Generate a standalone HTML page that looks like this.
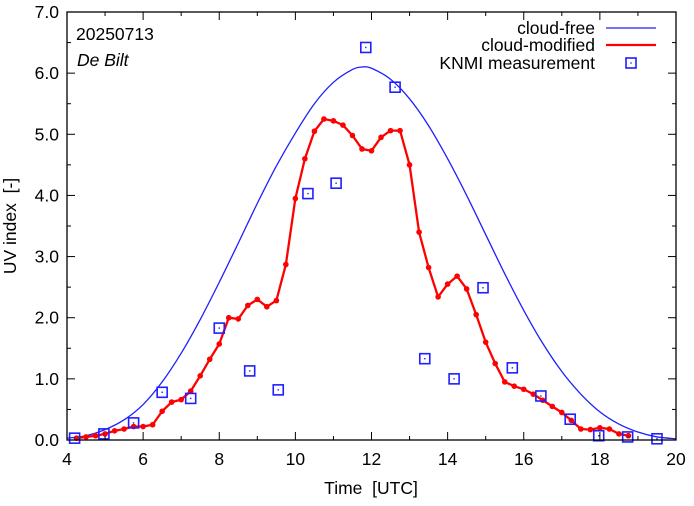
<!DOCTYPE html>
<html><head><meta charset="utf-8"><style>
body{margin:0;background:#fff}
svg text{font-family:"Liberation Sans",sans-serif;fill:#000}
</style></head><body>
<svg id="c" width="694" height="501" xmlns="http://www.w3.org/2000/svg"></svg>
<script>
const xTicks=[4,6,8,10,12,14,16,18,20];
const yTicks=[0,1,2,3,4,5,6,7];
const redTimes=[4.25,4.5,4.75,5,5.25,5.5,5.75,6,6.25,6.5,6.75,7,7.25,7.5,7.75,8,8.25,8.5,8.75,9,9.25,9.5,9.75,10,10.25,10.5,10.75,11,11.25,11.5,11.75,12,12.25,12.5,12.75,13,13.25,13.5,13.75,14,14.25,14.5,14.75,15,15.25,15.5,15.75,16,16.25,16.5,16.75,17,17.25,17.5,17.75,18,18.25,18.5,18.75];
const redValues=[0.03,0.05,0.07,0.1,0.15,0.18,0.22,0.22,0.25,0.47,0.62,0.66,0.8,1.05,1.32,1.57,2.0,1.98,2.2,2.3,2.18,2.28,2.87,3.95,4.6,5.05,5.25,5.22,5.15,4.98,4.76,4.73,4.95,5.06,5.06,4.5,3.4,2.82,2.34,2.55,2.68,2.47,2.05,1.6,1.25,0.95,0.88,0.83,0.75,0.65,0.55,0.45,0.32,0.18,0.17,0.2,0.18,0.1,0.07];
const blueTimes=[4,4.5,5,5.5,6,6.5,7,7.5,8,8.5,9,9.5,10,10.5,11,11.5,11.75,12,12.5,13,13.5,14,14.5,15,15.5,16,16.5,17,17.5,18,18.5,19,19.5,20];
const blueValues=[0.03,0.07,0.17,0.33,0.58,0.95,1.42,1.97,2.58,3.22,3.87,4.48,5.02,5.5,5.85,6.06,6.1,6.08,5.9,5.58,5.14,4.6,4.0,3.36,2.72,2.12,1.58,1.12,0.75,0.46,0.26,0.13,0.05,0.02];
const measTimes=[4.2,4.97,5.75,6.5,7.25,8.0,8.8,9.55,10.33,11.07,11.85,12.62,13.4,14.17,14.93,15.7,16.45,17.22,17.97,18.73,19.5];
const measValues=[0.03,0.1,0.28,0.78,0.68,1.83,1.13,0.82,4.03,4.2,6.42,5.77,1.33,1.0,2.49,1.18,0.72,0.34,0.07,0.05,0.02];

const L=67,R=676,T=12,B=440;
const X=v=>L+(v-4)/16*(R-L);
const Y=v=>B-v/7*(B-T);
const svg=document.getElementById('c');
const NS='http://www.w3.org/2000/svg';
function mk(t,a,p){const e=document.createElementNS(NS,t);for(const k in a)e.setAttribute(k,a[k]);(p||svg).appendChild(e);return e;}

function smooth(xs,ys){let pts=xs.map((x,i)=>[X(x),Y(ys[i])]);let d='M'+pts[0][0]+','+pts[0][1];
for(let i=0;i<pts.length-1;i++){const p0=pts[Math.max(0,i-1)],p1=pts[i],p2=pts[i+1],p3=pts[Math.min(pts.length-1,i+2)];
d+=' C'+(p1[0]+(p2[0]-p0[0])/6)+','+(p1[1]+(p2[1]-p0[1])/6)+' '+(p2[0]-(p3[0]-p1[0])/6)+','+(p2[1]-(p3[1]-p1[1])/6)+' '+p2[0]+','+p2[1];}return d;}
const bl=mk('path',{d:smooth(blueTimes,blueValues),fill:'none',stroke:'#1f1fff','stroke-width':1.3});



const rl=mk('polyline',{points:redTimes.map((t,i)=>X(t)+','+Y(redValues[i])).join(' '),fill:'none',stroke:'#f00','stroke-width':2.3,'stroke-linejoin':'round'});


redTimes.forEach((t,i)=>{const c=mk('circle',{cx:X(t),cy:Y(redValues[i]),r:2.8,fill:'#f00'});

});

measTimes.forEach((t,i)=>{const g=mk('g',{});


mk('rect',{x:X(t)-5,y:Y(measValues[i])-5,width:10,height:10,fill:'none',stroke:'#1f1fff','stroke-width':1.6},g);
mk('rect',{x:X(t)-0.7,y:Y(measValues[i])-0.7,width:1.4,height:1.4,fill:'#1f1fff'},g);});

const fr=mk('rect',{x:L,y:T,width:R-L,height:B-T,fill:'none',stroke:'#000','stroke-width':1.3});


for(let v=4;v<=20;v++){const x=X(v),len=v%2==0?8:4;
mk('line',{x1:x,y1:B,x2:x,y2:B-len,stroke:'#000'});mk('line',{x1:x,y1:T,x2:x,y2:T+len,stroke:'#000'});}
for(let v=0;v<=7;v+=0.5){const y=Y(v),len=v%1==0?8:4;
mk('line',{x1:L,y1:y,x2:L+len,y2:y,stroke:'#000'});mk('line',{x1:R,y1:y,x2:R-len,y2:y,stroke:'#000'});}
xTicks.forEach(v=>{const t=mk('text',{x:X(v),y:B+25,'text-anchor':'middle','font-size':17.5});t.textContent=v;

});
yTicks.forEach(v=>{const t=mk('text',{x:L-8,y:Y(v)+6,'text-anchor':'end','font-size':17.5});t.textContent=v.toFixed(1);

});
const xt=mk('text',{x:371,y:494,'text-anchor':'middle','font-size':17.5});xt.textContent='Time\u00a0\u00a0[UTC]';


const yt=mk('text',{x:0,y:0,'text-anchor':'middle','font-size':17.5,transform:'translate(16,226) rotate(-90)'});yt.textContent='UV index\u00a0\u00a0[-]';


const d1=mk('text',{x:76,y:40,'font-size':17.5});d1.textContent='20250713';


const d2=mk('text',{x:77,y:66,'font-size':17.5,'font-style':'italic'});d2.textContent='De Bilt';



const lg=mk('g',{});


[['cloud-free',28],['cloud-modified',45],['KNMI measurement',63]].forEach((e,i)=>{
const t=mk('text',{x:595,y:e[1]+6,'text-anchor':'end','font-size':17.5},lg);t.textContent=e[0];


if(i==0)mk('line',{x1:606,y1:e[1],x2:656,y2:e[1],stroke:'#1f1fff','stroke-width':1.3},lg);
if(i==1)mk('line',{x1:606,y1:e[1],x2:656,y2:e[1],stroke:'#f00','stroke-width':2.3},lg);
if(i==2){mk('rect',{x:626,y:e[1]-5,width:10,height:10,fill:'none',stroke:'#1f1fff','stroke-width':1.6},lg);mk('rect',{x:630.3,y:e[1]-0.7,width:1.4,height:1.4,fill:'#1f1fff'},lg);}
});
</script>
</body></html>
